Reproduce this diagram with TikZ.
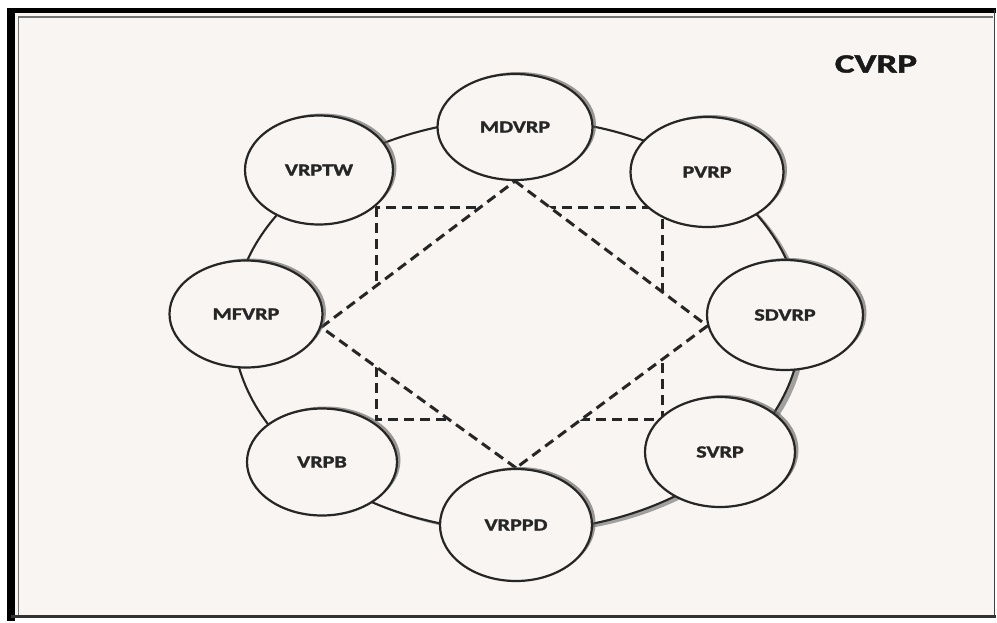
\documentclass[tikz,border=0pt]{standalone}
\usepackage{fontspec}
\setmainfont{Carlito}
\newfontfamily\heavy{Carlito}[BoldFeatures={FakeBold=1.5}]
\usetikzlibrary{shapes.geometric,shadows,backgrounds}
\definecolor{paper}{HTML}{F8F5F2}
\definecolor{ink}{HTML}{262626}
\begin{document}
\begin{tikzpicture}[x=1pt,y=-1pt,
  variant/.style={ellipse, draw=ink, line width=2.2pt, fill=paper,
    minimum width=152pt, minimum height=110pt, inner sep=0pt,
    drop shadow={shadow xshift=3.5pt, shadow yshift=2pt, fill=black!65, opacity=.6},
    font=\fontsize{17}{18}\selectfont\heavy\bfseries, text=black!85},
  link/.style={draw=ink, line width=2.1pt},
  hidden/.style={dash pattern=on 10pt off 6pt, line width=3pt, draw=ink},
  framebar/.style={line width=#1, draw=black}]
\useasboundingbox (0,0) rectangle (997,622);

% page and double frame
\begin{pgfonlayer}{background}
  \fill[white] (0,0) rectangle (997,622);
  \fill[paper] (15,13) rectangle (994,616);
  \draw[framebar=8pt] (11,8) -- (11,621);
  \draw[framebar=5pt] (7,10.5) -- (996,10.5);
  \draw[line width=1.5pt, draw=black!75] (994.5,10) -- (994.5,618);
  \draw[line width=2.5pt, draw=black!80] (11,616.5) -- (996,616.5);
  \draw[line width=1.5pt, draw=black!55] (18.5,615) -- (18.5,17) -- (993,17);
\end{pgfonlayer}

% problem variants around the ring
\node[variant, minimum width=155pt, minimum height=106pt] (MDVRP) at (515,127) {\scalebox{1.3}[1]{MDVRP}};
\node[variant, minimum width=153pt] (PVRP)  at (707,172) {\scalebox{1.3}[1]{PVRP}};
\node[variant, minimum width=148pt, minimum height=109pt] (VRPTW) at (319,170) {\scalebox{1.3}[1]{VRPTW}};
\node[variant, minimum width=153pt, minimum height=107pt] (MFVRP) at (246,314) {\scalebox{1.3}[1]{MFVRP}};
\node[variant, minimum width=156pt] (SDVRP) at (785,315) {\scalebox{1.3}[1]{SDVRP}};
\node[variant, minimum width=150pt, minimum height=107pt] (VRPB)  at (322,462) {\scalebox{1.3}[1]{VRPB}};
\node[variant, minimum width=152pt, minimum height=112pt] (VRPPD) at (516,525) {\scalebox{1.3}[1]{VRPPD}};
\node[variant, minimum width=150pt] (SVRP)  at (720,452) {\scalebox{1.3}[1]{SVRP}};

\node[font=\fontsize{26.5}{28}\selectfont\heavy\bfseries, text=black!90] (CVRP) at (876,64) {\scalebox{1.4}[1]{CVRP}};

% ring, dashed square and dashed diamond behind the variants
\begin{pgfonlayer}{background}
  \fill[black!55, opacity=.65] (522,328) ellipse [x radius=284, y radius=206];
  \draw[link, fill=paper] (517,325) ellipse [x radius=284, y radius=206];
  \draw[hidden] (376,207) rectangle (662,419);
  \fill[paper] (MDVRP.south) -- (SDVRP.188) -- (VRPPD.north) -- (MFVRP.-10) -- cycle;
  \draw[hidden] (MDVRP.south) -- (SDVRP.188);
  \draw[hidden] (SDVRP.188) -- (VRPPD.north);
  \draw[hidden] (VRPPD.north) -- (MFVRP.-10);
  \draw[hidden] (MFVRP.-10) -- (MDVRP.south);
\end{pgfonlayer}
\end{tikzpicture}
\end{document}
